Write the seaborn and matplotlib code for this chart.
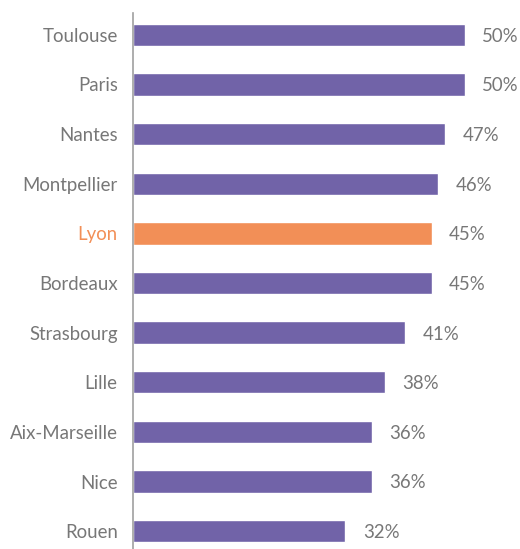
import matplotlib
matplotlib.use("Agg")
import matplotlib.pyplot as plt
import seaborn as sns
import pandas as pd

cities = ["Toulouse", "Paris", "Nantes", "Montpellier", "Lyon", "Bordeaux",
          "Strasbourg", "Lille", "Aix-Marseille", "Nice", "Rouen"]
values = [50, 50, 47, 46, 45, 45, 41, 38, 36, 36, 32]
highlight = "Lyon"

PURPLE = "#7163a8"
ORANGE = "#f28f57"
GRAY = "#777777"

sns.set_style("white")
plt.rcParams["font.family"] = ["Lato", "DejaVu Sans"]

df = pd.DataFrame({"city": cities, "value": values})
palette = {c: (ORANGE if c == highlight else PURPLE) for c in cities}

fig = plt.figure(figsize=(5.2, 5.49), dpi=100)
ax = fig.add_axes([133/520, 0, 1 - 133/520, (549-13)/549])

sns.barplot(data=df, x="value", y="city", hue="city", palette=palette,
            order=cities, width=0.45, legend=False, ax=ax, saturation=1)

ax.set_xlim(0, (520-133)/6.64)
ax.set_ylim(10.36, -0.44)
for s in ["top", "right", "bottom"]:
    ax.spines[s].set_visible(False)
ax.spines["left"].set_color("#a0a0a0")
ax.spines["left"].set_linewidth(1.2)
ax.set_xticks([])
ax.set_xlabel("")
ax.set_ylabel("")
ax.tick_params(axis="y", length=0, pad=11, labelsize=13.4, labelcolor=GRAY)
for lbl in ax.get_yticklabels():
    if lbl.get_text() == highlight:
        lbl.set_color(ORANGE)

for i, v in enumerate(values):
    ax.text(v + 2.6, i + 0.03, f"{v}%", va="center", ha="left", fontsize=13.4, color=GRAY)

fig.savefig("out.png", dpi=100)
